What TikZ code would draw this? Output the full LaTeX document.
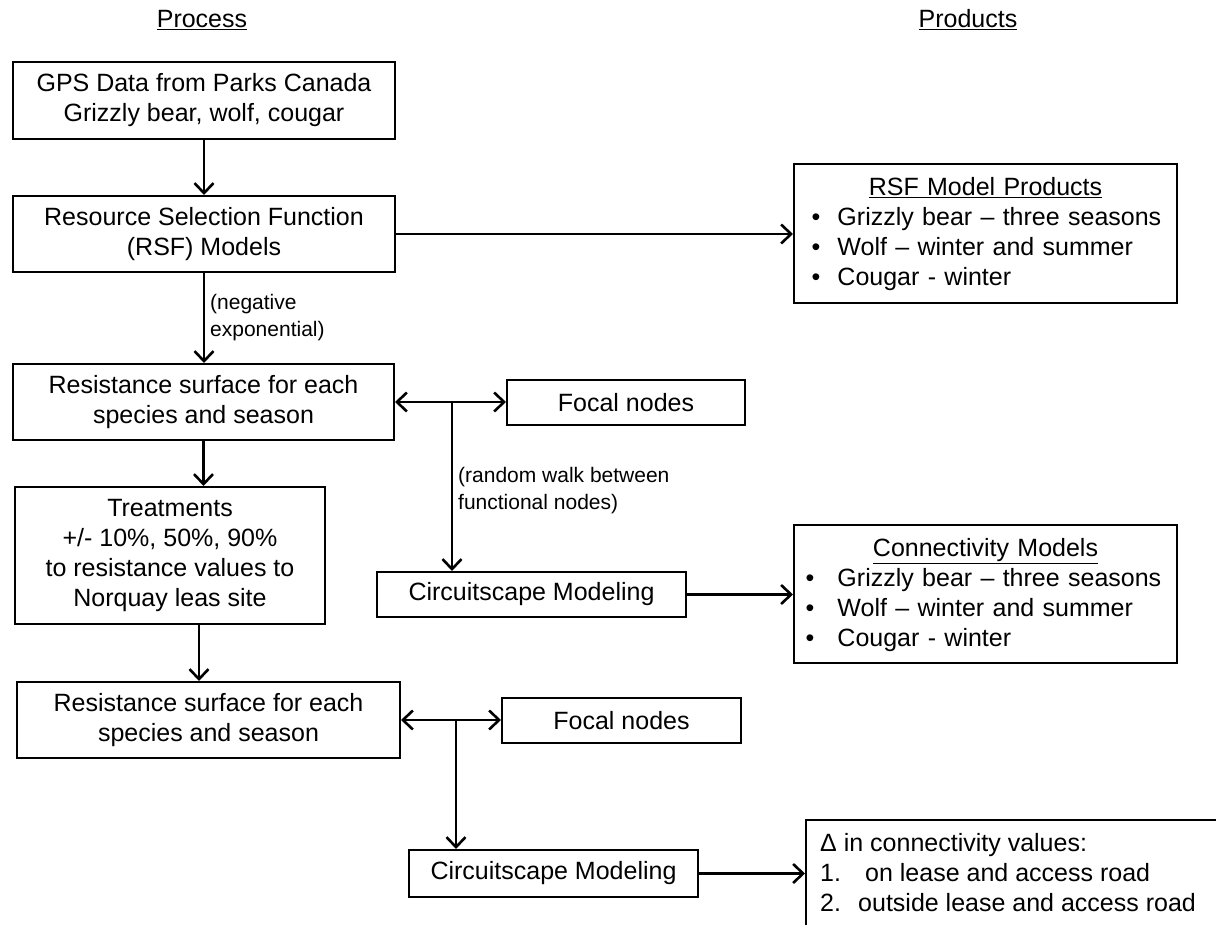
\documentclass[tikz,border=0pt]{standalone}
\usepackage{fontspec}
\setmainfont{Liberation Sans}
\usetikzlibrary{arrows.meta}
\newcommand{\nohyph}{\hyphenpenalty=10000\relax}
\begin{document}
\begin{tikzpicture}[x=1pt,y=-1pt,
 box/.style={draw, line width=2pt, inner sep=0pt, align=center, font=\fontsize{25}{30}\selectfont},
 conn/.style={line width=2.6pt, -{Straight Barb[length=10pt,width=19pt]}},
 biconn/.style={line width=2.6pt, {Straight Barb[length=10pt,width=19pt]}-{Straight Barb[length=10pt,width=19pt]}},
 lbl/.style={font=\fontsize{21}{27}\selectfont, align=left, inner sep=0pt},
 head/.style={font=\fontsize{25}{30}\selectfont, inner sep=0pt},
 listtxt/.style={font={\fontsize{25}{30}\selectfont\nohyph}, align=left, inner sep=0pt, text width=372pt}]
\clip (0,0) rectangle (1216,925);
\fill[white] (0,0) rectangle (1216,925);
% headings
\node[head] (hproc) at (202,20) {\underline{Process}};
\node[head] (hprod) at (968,20) {\underline{Products}};
% process column
\node[box, minimum width=382pt, minimum height=77pt] (gps) at (204,100.5) {GPS Data from Parks Canada\\Grizzly bear, wolf, cougar};
\node[box, minimum width=382pt, minimum height=76pt] (rsf) at (204,234) {Resource Selection Function\\(RSF) Models};
\node[box, minimum width=381pt, minimum height=76pt] (res1) at (203.5,402) {Resistance surface for each\\species and season};
\node[box, minimum width=238pt, minimum height=45pt] (focal1) at (626,402.5) {Focal nodes};
\node[box, minimum width=310pt, minimum height=137pt] (treat) at (170,555.5) {Treatments\\+/- 10\%, 50\%, 90\%\\to resistance values to\\Norquay leas site};
\node[box, minimum width=309pt, minimum height=45pt] (circ1) at (531.5,594.5) {Circuitscape Modeling};
\node[box, minimum width=383pt, minimum height=76pt] (res2) at (208.5,720) {Resistance surface for each\\species and season};
\node[box, minimum width=239pt, minimum height=45pt] (focal2) at (621.5,720.5) {Focal nodes};
\node[box, minimum width=289pt, minimum height=47pt] (circ2) at (553.5,873.5) {Circuitscape Modeling};
% products column
\node[box, minimum width=383pt, minimum height=139pt] (rsfprod) at (985.5,233.5) {};
\node[listtxt, anchor=center] (rsfprodtxt) at (985.5,234) {\makebox[\linewidth][c]{\underline{RSF Model Products}}\\
\hspace*{12pt}\makebox[26pt][l]{•}Grizzly bear – three seasons\\
\hspace*{12pt}\makebox[26pt][l]{•}Wolf – winter and summer\\
\hspace*{12pt}\makebox[26pt][l]{•}Cougar - winter};
\node[box, minimum width=383pt, minimum height=138pt] (connprod) at (985.5,594) {};
\node[listtxt, anchor=center] (connprodtxt) at (985.5,595) {\makebox[\linewidth][c]{\underline{Connectivity Models}}\\
\hspace*{6pt}\makebox[32pt][l]{•}Grizzly bear – three seasons\\
\hspace*{6pt}\makebox[32pt][l]{•}Wolf – winter and summer\\
\hspace*{6pt}\makebox[32pt][l]{•}Cougar - winter};
\node[draw, line width=2pt, anchor=north west, minimum width=450pt, minimum height=140pt, inner sep=0pt] (delta) at (805,819) {};
\node[font=\fontsize{25}{30}\selectfont, align=left, inner sep=0pt, anchor=north west] (deltatxt) at (820,833) {Δ in connectivity values:\\
\makebox[45pt][l]{1.}on lease and access road\\
\makebox[38pt][l]{2.}outside lease and access road};
% labels
\node[lbl, anchor=north west] (negl) at (210,294) {(negative\\exponential)};
\node[lbl, anchor=north west] (rwl) at (458,467) {(random walk between\\functional nodes)};
% connectors
\draw[conn] (gps) -- (rsf);
\draw[conn] (rsf.east) -- (rsf.east -| rsfprod.west);
\draw[conn] (rsf.south) -- (rsf.south |- res1.north);
\draw[biconn] (res1.east) -- (res1.east -| focal1.west);
\coordinate (j1) at (452,402);
\draw[conn] (j1) -- (j1 |- circ1.north);
\draw[conn] (res1.south) -- (res1.south |- treat.north);
\coordinate (t1) at (199,624);
\draw[conn] (t1) -- (t1 |- res2.north);
\draw[conn] (circ1.east) -- (circ1.east -| connprod.west);
\draw[biconn] (res2.east) -- (res2.east -| focal2.west);
\coordinate (j2) at (456,720);
\draw[conn] (j2) -- (j2 |- circ2.north);
\draw[conn] (circ2.east) -- (circ2.east -| delta.west);
\end{tikzpicture}
\end{document}
